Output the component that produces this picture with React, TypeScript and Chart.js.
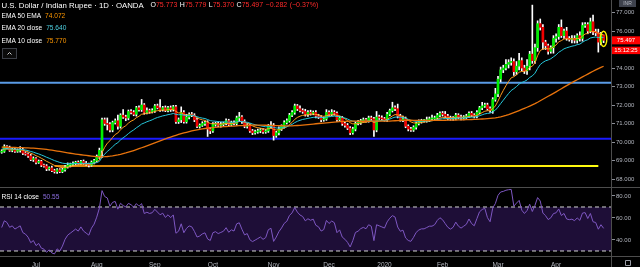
import React, { useEffect, useRef } from 'react';
import { Chart, registerables } from 'chart.js';

Chart.register(...registerables);

// ---------- data ----------
const closes: number[] = [
  69.50, 69.75, 69.70, 69.55, 69.60, 69.50, 69.55, 69.60, 69.40, 69.35,
  69.25, 69.05, 69.10, 68.90, 68.95, 68.75, 68.70, 68.55, 68.60, 68.45,
  68.40, 68.50, 68.40, 68.50, 68.65, 68.75, 68.80, 68.85, 68.90, 68.85,
  68.95, 68.85, 68.80, 68.75, 68.90, 69.00, 69.20, 69.55, 71.20, 71.00,
  70.95, 70.65, 71.05, 71.15, 70.85, 71.45, 71.35, 71.30, 71.65, 71.60,
  71.50, 71.85, 71.75, 72.00, 71.60, 71.70, 71.65, 71.70, 71.95, 71.85,
  71.75, 71.85, 71.70, 71.85, 71.75, 71.90, 71.10, 71.20, 71.60, 71.10,
  71.35, 71.50, 71.45, 71.20, 70.85, 70.90, 71.00, 71.05, 70.70, 70.60,
  70.95, 71.00, 70.90, 70.95, 71.00, 71.15, 70.95, 71.05, 71.00, 71.30,
  71.35, 71.10, 70.85, 70.90, 70.60, 70.50, 70.55, 70.60, 70.65, 70.55,
  70.60, 70.85, 70.90, 70.35, 70.50, 70.70, 70.85, 71.05, 71.15, 71.45,
  71.60, 71.95, 71.80, 71.70, 71.65, 71.50, 71.60, 71.55, 71.60, 71.40,
  71.35, 71.20, 71.25, 71.60, 71.50, 71.60, 71.55, 71.20, 71.30, 71.00,
  70.90, 70.75, 70.50, 70.70, 71.00, 71.05, 71.15, 71.20, 71.15, 71.30,
  71.25, 70.65, 71.35, 71.30, 71.25, 71.20, 71.50, 71.70, 71.85, 71.80,
  71.40, 71.20, 71.25, 70.85, 70.70, 70.65, 70.80, 71.00, 71.10, 71.15,
  71.15, 71.20, 71.25, 71.25, 71.30, 71.45, 71.55, 71.50, 71.40, 71.30,
  71.25, 71.30, 71.45, 71.35, 71.30, 71.35, 71.40, 71.55, 71.45, 71.40,
  71.60, 71.85, 71.95, 72.00, 71.80, 71.70, 72.30, 72.60, 73.40, 73.90,
  74.00, 74.20, 74.30, 74.35, 73.80, 74.10, 74.40, 74.00, 73.85, 74.10,
  74.75, 74.40, 75.10, 76.40, 76.20, 75.40, 75.20, 74.90, 75.10, 75.60,
  75.70, 76.20, 75.75, 76.00, 75.60, 75.55, 75.60, 75.50, 75.75, 75.60,
  76.30, 76.35, 76.00, 76.50, 75.95, 75.90, 75.40, 75.779, 75.497,
];
// wick lengths above / below the body, in hundredths of a rupee
const wickUp: number[] = [
  8, 10, 6, 8, 6, 6, 8, 15, 6, 8,
  6, 8, 10, 6, 8, 6, 6, 8, 6, 10,
  8, 6, 6, 10, 8, 12, 6, 8, 6, 8,
  6, 8, 10, 6, 8, 6, 10, 12, 10, 10,
  30, 10, 8, 10, 30, 8, 30, 10, 8, 10,
  10, 8, 10, 30, 8, 15, 8, 10, 8, 10,
  45, 8, 10, 8, 10, 8, 8, 10, 30, 10,
  15, 8, 10, 8, 10, 8, 10, 8, 10, 8,
  10, 8, 10, 12, 8, 10, 8, 8, 10, 10,
  25, 8, 10, 10, 8, 8, 10, 10, 8, 8,
  8, 10, 20, 10, 8, 12, 8, 10, 10, 10,
  10, 10, 8, 15, 10, 12, 10, 12, 8, 10,
  10, 8, 10, 15, 8, 15, 10, 8, 10, 8,
  8, 10, 8, 10, 8, 12, 8, 10, 8, 10,
  10, 8, 30, 10, 12, 8, 10, 8, 30, 10,
  25, 10, 15, 10, 8, 10, 8, 8, 10, 8,
  8, 15, 10, 20, 10, 10, 8, 10, 15, 10,
  10, 8, 10, 8, 10, 8, 10, 8, 10, 8,
  10, 8, 20, 10, 10, 10, 10, 30, 15, 15,
  15, 25, 15, 20, 15, 25, 40, 15, 15, 35,
  15, 265, 20, 15, 25, 15, 10, 10, 10, 15,
  15, 15, 40, 10, 20, 10, 15, 15, 10, 20,
  15, 10, 10, 20, 36, 15, 20, 15, 0,
];
const wickDown: number[] = [
  6, 6, 8, 6, 8, 6, 6, 10, 8, 6,
  8, 6, 10, 8, 6, 8, 6, 10, 8, 6,
  8, 10, 6, 6, 8, 6, 10, 6, 8, 6,
  8, 6, 6, 10, 6, 8, 6, 10, 40, 10,
  30, 10, 10, 8, 15, 10, 8, 15, 10, 8,
  8, 10, 8, 10, 10, 8, 10, 8, 10, 6,
  10, 8, 6, 8, 10, 8, 10, 10, 15, 8,
  8, 10, 8, 10, 8, 10, 6, 10, 40, 15,
  8, 10, 8, 10, 8, 8, 10, 8, 8, 10,
  20, 10, 8, 10, 8, 10, 8, 8, 10, 8,
  8, 8, 10, 25, 10, 12, 8, 10, 8, 8,
  8, 10, 10, 8, 10, 10, 12, 10, 8, 10,
  8, 10, 8, 8, 10, 8, 10, 10, 8, 10,
  10, 8, 10, 8, 10, 8, 10, 8, 8, 8,
  8, 35, 10, 8, 10, 8, 10, 8, 8, 10,
  10, 8, 10, 8, 10, 8, 8, 10, 8, 8,
  8, 8, 10, 10, 8, 8, 10, 10, 8, 10,
  8, 8, 10, 8, 10, 10, 8, 8, 8, 10,
  10, 8, 10, 8, 8, 10, 15, 10, 15, 15,
  15, 10, 20, 15, 20, 15, 20, 15, 15, 20,
  20, 15, 15, 20, 15, 40, 20, 15, 10, 30,
  20, 15, 10, 15, 10, 10, 20, 15, 15, 15,
  15, 10, 15, 10, 15, 15, 54, 15, 12.7,
];
const firstOpen = 69.45;

const monthTickIndex = [13, 36, 58, 80, 103, 124, 145, 167, 188, 210];
const monthTickLabels = ['Jul', 'Aug', 'Sep', 'Oct', 'Nov', 'Dec', '2020', 'Feb', 'Mar', 'Apr'];
const priceTicks = [68, 69, 70, 71, 72, 73, 74, 76, 77];
const rsiTicks = [40, 60, 80];
const rsiBands = [70, 30];
const levelValues = [73.2, 70.18, 68.7];
const yellowSpan = [20, 226];
// EMA 50 is taken of the EMA 20 line ("EMA 50 EMA"); the others of the closes
const emaPeriods = [50, 20, 10];
const emaSeeds = [69.72, 69.62, 69.58];
const rsiPeriod = 14;
const rsiSeed = [0.07, 0.07];

const titleText = 'U.S. Dollar / Indian Rupee · 1D · OANDA';
const ohlcLetters = ['O', 'H', 'L', 'C'];
const ohlcValues = ['75.773', '75.779', '75.370', '75.497'];
const changeTexts = ['\u22120.282', '(\u22120.37%)'];
const legendNames = ['EMA 50 EMA', 'EMA 20 close', 'EMA 10 close'];
const legendValues = ['74.072', '75.640', '75.770'];
const rsiName = 'RSI 14 close';
const rsiValueText = '50.55';
const timeText = '15:12:25';
const currencyText = 'INR';

// ---------- view ----------
const FONT = "'Liberation Sans', Arial, sans-serif";
const X_MIN = -0.644;
const X_MAX = 231.18;
const P_MIN = 67.514;
const P_MAX = 77.676;
const R_MIN = 25.45;
const R_MAX = 87.27;
const GREEN = '#00f000';
const RED = '#f20000';
const TXT_RED = '#ff2a2a';
const AXIS_TXT = '#b2b5be';
const SEP = '#4d4d4d';
const EMA_COLORS = ['#e8730c', '#26c6da', '#ff9a1a'];
const LEVEL_COLORS = ['#5a9be6', '#1a1aff', ''];

export default function App() {
  const topRef = useRef<HTMLCanvasElement>(null);
  const botRef = useRef<HTMLCanvasElement>(null);

  useEffect(() => {
    const n = closes.length;
    const opens = closes.map((c, i) => (i === 0 ? firstOpen : closes[i - 1]));
    const highs = closes.map((c, i) => Math.max(opens[i], c) + wickUp[i] / 100);
    const lows = closes.map((c, i) => Math.min(opens[i], c) - wickDown[i] / 100);
    const emaOf = (src: number[], p: number, seed: number) => {
      const k = 2 / (p + 1);
      let e = seed;
      return src.map((c, i) => {
        if (i > 0) e = c * k + e * (1 - k);
        return e;
      });
    };
    const ema20 = emaOf(closes, emaPeriods[1], emaSeeds[1]);
    const ema10 = emaOf(closes, emaPeriods[2], emaSeeds[2]);
    const ema50 = emaOf(ema20, emaPeriods[0], emaSeeds[0]);
    const emas = [ema50, ema20, ema10];
    let ag = rsiSeed[0];
    let al = rsiSeed[1];
    const rsi = closes.map((c, i) => {
      const ch = c - opens[i];
      ag = (ag * (rsiPeriod - 1) + Math.max(ch, 0)) / rsiPeriod;
      al = (al * (rsiPeriod - 1) + Math.max(-ch, 0)) / rsiPeriod;
      return al === 0 ? 100 : 100 - 100 / (1 + ag / al);
    });

    const up = closes.map((c, i) => c >= opens[i]);

    const topDeco = {
      id: 'topDeco',
      afterDraw(chart: any) {
        const c = chart.ctx as CanvasRenderingContext2D;
        const xs = chart.scales.x;
        const ys = chart.scales.y;
        c.save();
        c.strokeStyle = SEP;
        c.lineWidth = 1;
        c.beginPath();
        c.moveTo(611.5, 0);
        c.lineTo(611.5, 188);
        c.moveTo(0, 187.5);
        c.lineTo(640, 187.5);
        c.stroke();

        // title
        c.textBaseline = 'middle';
        c.textAlign = 'left';
        c.font = `7.8px ${FONT}`;
        c.fillStyle = '#ffffff';
        c.fillText(titleText, 1.5, 5.5);
        c.font = `7px ${FONT}`;
        let x = 150.5;
        ohlcLetters.forEach((L, i) => {
          c.fillStyle = '#ffffff';
          c.fillText(L, x, 5.5);
          x += c.measureText(L).width;
          c.fillStyle = TXT_RED;
          c.fillText(ohlcValues[i], x, 5.5);
          x += c.measureText(ohlcValues[i]).width + 2.5;
        });
        changeTexts.forEach((t) => {
          c.fillStyle = TXT_RED;
          c.fillText(t, x, 5.5);
          x += c.measureText(t).width + 2.5;
        });

        // legend
        const rowsY = [16, 28.5, 41];
        const valColors = ['#ff9800', '#4dd0e1', '#ff9800'];
        legendNames.forEach((name, i) => {
          c.font = `6.6px ${FONT}`;
          c.fillStyle = '#ffffff';
          c.fillText(name, 1.5, rowsY[i]);
          const w = c.measureText(name).width;
          c.fillStyle = valColors[i];
          c.fillText(legendValues[i], 1.5 + w + 4, rowsY[i]);
        });

        // collapse button
        c.fillStyle = '#0b0b0b';
        c.fillRect(2.5, 48.5, 14, 10);
        c.strokeStyle = '#3c3f47';
        c.strokeRect(2.5, 48.5, 14, 10);
        c.strokeStyle = '#d0d0d0';
        c.beginPath();
        c.moveTo(7.5, 54.5);
        c.lineTo(9.5, 52.5);
        c.lineTo(11.5, 54.5);
        c.stroke();

        // currency box
        c.fillStyle = '#3e424d';
        c.fillRect(619, 0, 17, 7);
        c.fillStyle = '#b8bcc6';
        c.font = `5px ${FONT}`;
        c.textAlign = 'center';
        c.fillText(currencyText, 627.5, 3.8);

        // last price labels
        const yc = ys.getPixelForValue(closes[n - 1]);
        c.fillStyle = '#ff0000';
        c.fillRect(612, yc - 4, 28, 8);
        c.fillRect(612, yc + 6.4, 28, 7.4);
        c.fillStyle = '#ffffff';
        c.font = `6px ${FONT}`;
        c.fillText(closes[n - 1].toFixed(3), 626, yc + 0.3);
        c.fillText(timeText, 626, yc + 10.2);

        // yellow ellipse marker around last candle
        const ex = xs.getPixelForValue(n - 1);
        const ey = ys.getPixelForValue((highs[n - 1] + lows[n - 1]) / 2);
        c.strokeStyle = '#fff200';
        c.lineWidth = 1.4;
        c.beginPath();
        c.ellipse(ex, ey, 3.2, 7.6, 0, 0, Math.PI * 2);
        c.stroke();
        c.restore();
      },
    };

    const idx = closes.map((_, i) => i);
    const levelDatasets = levelValues.map((v, j) => {
      const span = j === 2 ? yellowSpan : [X_MIN, X_MAX];
      return {
        type: 'line' as const,
        data: [
          { x: span[0], y: v },
          { x: span[1], y: v },
        ],
        borderWidth: 2,
        borderColor:
          j === 2
            ? (ctx: any) => {
                const ch = ctx.chart;
                if (!ch.chartArea) return '#ffcc00';
                const x0 = ch.scales.x.getPixelForValue(yellowSpan[0]);
                const x1 = ch.scales.x.getPixelForValue(yellowSpan[1]);
                const g = ch.ctx.createLinearGradient(x0, 0, x1, 0);
                g.addColorStop(0, '#d9810f');
                g.addColorStop(0.45, '#f0a800');
                g.addColorStop(1, '#ffff10');
                return g;
              }
            : LEVEL_COLORS[j],
        pointRadius: 0,
        fill: false,
        order: 3,
      };
    });

    const top = new Chart(topRef.current as HTMLCanvasElement, {
      type: 'bar',
      data: {
        datasets: [
          ...emas.map((e, j) => ({
            type: 'line' as const,
            data: idx.map((i) => ({ x: i, y: e[i] })),
            borderColor: EMA_COLORS[j],
            borderWidth: j === 0 ? 1.3 : 1,
            pointRadius: 0,
            fill: false,
            order: 0,
          })),
          {
            type: 'bar' as const,
            data: idx.map((i) => ({ x: i, y: [opens[i], closes[i]] })),
            backgroundColor: idx.map((i) => (up[i] ? GREEN : RED)),
            barThickness: 2,
            minBarLength: 1,
            grouped: false,
            order: 1,
          },
          {
            type: 'bar' as const,
            data: idx.map((i) => ({ x: i, y: [lows[i], highs[i]] })),
            backgroundColor: '#ffffff',
            barThickness: 1,
            grouped: false,
            order: 2,
          },
          ...levelDatasets,
        ] as any,
      },
      options: {
        responsive: false,
        animation: false,
        devicePixelRatio: 1,
        events: [],
        layout: { padding: 0 },
        plugins: { legend: { display: false }, tooltip: { enabled: false } },
        scales: {
          x: { type: 'linear', min: X_MIN, max: X_MAX, display: false, offset: false },
          y: {
            type: 'linear',
            position: 'right',
            min: P_MIN,
            max: P_MAX,
            afterBuildTicks: (s: any) => {
              s.ticks = priceTicks.map((v) => ({ value: v }));
            },
            afterFit: (s: any) => {
              s.width = 28;
              s.paddingTop = 0;
              s.paddingBottom = 0;
            },
            ticks: {
              callback: (v: any) => Number(v).toFixed(3),
              color: AXIS_TXT,
              font: { family: FONT, size: 6 },
              padding: 1,
            },
            grid: { drawOnChartArea: false, tickLength: 3, color: '#8a8d96' },
            border: { display: false },
          },
        },
      } as any,
      plugins: [topDeco],
    });

    const botDeco = {
      id: 'botDeco',
      afterDraw(chart: any) {
        const c = chart.ctx as CanvasRenderingContext2D;
        c.save();
        c.strokeStyle = SEP;
        c.lineWidth = 1;
        c.beginPath();
        c.moveTo(611.5, 0);
        c.lineTo(611.5, 79);
        c.moveTo(0, 68.5);
        c.lineTo(640, 68.5);
        c.stroke();
        c.textBaseline = 'middle';
        c.textAlign = 'left';
        c.font = `6.6px ${FONT}`;
        c.fillStyle = '#ffffff';
        c.fillText(rsiName, 1.5, 8.7);
        const w = c.measureText(rsiName).width;
        c.fillStyle = '#8c6ee0';
        c.fillText(rsiValueText, 1.5 + w + 4, 8.7);
        // settings icon
        c.strokeStyle = '#9a9da6';
        c.beginPath();
        c.rect(625.5, 72.5, 5, 5);
        c.stroke();
        c.restore();
      },
    };

    const bot = new Chart(botRef.current as HTMLCanvasElement, {
      type: 'line',
      data: {
        datasets: [
          ...rsiBands.map((b, j) => ({
            data: [
              { x: X_MIN, y: b },
              { x: X_MAX, y: b },
            ],
            borderColor: '#d4d4d4',
            borderWidth: 1,
            borderDash: [4, 3],
            pointRadius: 0,
            fill: j === 1 ? '-1' : false,
            backgroundColor: '#1e0e37',
            order: 1,
          })),
          {
            data: idx.map((i) => ({ x: i, y: rsi[i] })),
            borderColor: '#7e57c2',
            borderWidth: 1,
            pointRadius: 0,
            fill: false,
            order: 0,
          },
        ] as any,
      },
      options: {
        responsive: false,
        animation: false,
        devicePixelRatio: 1,
        events: [],
        layout: { padding: 0 },
        plugins: { legend: { display: false }, tooltip: { enabled: false } },
        scales: {
          x: {
            type: 'linear',
            min: X_MIN,
            max: X_MAX,
            offset: false,
            afterBuildTicks: (s: any) => {
              s.ticks = monthTickIndex.map((v) => ({ value: v }));
            },
            afterFit: (s: any) => {
              s.height = 11;
              s.paddingLeft = 0;
              s.paddingRight = 0;
            },
            ticks: {
              callback: (_v: any, i: number) => monthTickLabels[i],
              autoSkip: false,
              maxRotation: 0,
              color: AXIS_TXT,
              font: { family: FONT, size: 6.5 },
              padding: 5.5,
            },
            grid: { display: false, drawTicks: false },
            border: { display: false },
          },
          y: {
            type: 'linear',
            position: 'right',
            min: R_MIN,
            max: R_MAX,
            afterBuildTicks: (s: any) => {
              s.ticks = rsiTicks.map((v) => ({ value: v }));
            },
            afterFit: (s: any) => {
              s.width = 28;
              s.paddingTop = 0;
              s.paddingBottom = 0;
            },
            ticks: {
              callback: (v: any) => Number(v).toFixed(2),
              color: AXIS_TXT,
              font: { family: FONT, size: 6 },
              padding: 1,
            },
            grid: { drawOnChartArea: false, tickLength: 3, color: '#8a8d96' },
            border: { display: false },
          },
        },
      } as any,
      plugins: [botDeco],
    });

    return () => {
      top.destroy();
      bot.destroy();
    };
  }, []);

  return (
    <div
      style={{
        position: 'fixed',
        left: 0,
        top: 0,
        width: 640,
        height: 267,
        background: '#000',
        overflow: 'hidden',
      }}
    >
      <canvas
        ref={topRef}
        width={640}
        height={188}
        style={{ position: 'absolute', left: 0, top: 0, width: 640, height: 188 }}
      />
      <canvas
        ref={botRef}
        width={640}
        height={79}
        style={{ position: 'absolute', left: 0, top: 188, width: 640, height: 79 }}
      />
    </div>
  );
}
